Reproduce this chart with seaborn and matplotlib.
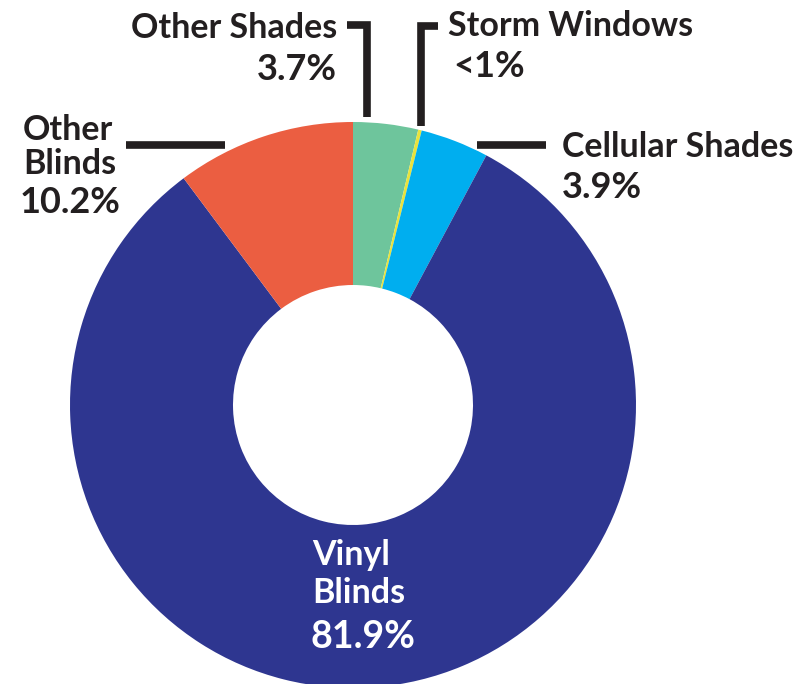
import matplotlib.pyplot as plt
import seaborn as sns

# window-covering share, clockwise from 12 o'clock
labels = ["Other Shades", "Storm Windows", "Cellular Shades", "Vinyl Blinds", "Other Blinds"]
values = [3.7, 0.2, 3.9, 81.9, 10.2]
pct_text = ["3.7%", "<1%", "3.9%", "81.9%", "10.2%"]
colors = ["#6EC59C", "#E8E33C", "#00AEEF", "#2E3690", "#EB5E41"]

sns.set_theme(style="white")
plt.rcParams["font.family"] = ["Lato", "DejaVu Sans"]

W, H = 811, 684
INK = "#231F20"

fig = plt.figure(figsize=(W / 100, H / 100), dpi=100)
ax = fig.add_axes([0, 0, 1, 1])

ax.pie(values, colors=colors, startangle=90, counterclock=False,
       radius=283, center=(353, H - 405),
       wedgeprops=dict(width=283 - 120, linewidth=0))
ax.set_xlim(0, W)
ax.set_ylim(0, H)
ax.set_aspect("equal")
ax.axis("off")


def y(py):
    return H - py


lw = 5.5
# leader lines
ax.plot([347, 367, 367], [y(25), y(25), y(117)], color=INK, lw=lw, solid_capstyle="butt", solid_joinstyle="miter")
ax.plot([438, 421, 421], [y(26), y(26), y(126)], color=INK, lw=lw, solid_capstyle="butt", solid_joinstyle="miter")
ax.plot([477, 546], [y(145), y(145)], color=INK, lw=lw, solid_capstyle="butt")
ax.plot([126, 225], [y(145), y(145)], color=INK, lw=lw, solid_capstyle="butt")

lab = dict(fontsize=24.5, fontweight="bold", color=INK)
num = dict(fontsize=26, fontweight="bold", color=INK)

ax.text(337, y(38), labels[0], ha="right", va="baseline", **lab)
ax.text(337, y(80), pct_text[0], ha="right", va="baseline", **num)

ax.text(448, y(36), labels[1], ha="left", va="baseline", **lab)
ax.text(453, y(77), pct_text[1], ha="left", va="baseline", **num)

ax.text(562, y(157), labels[2], ha="left", va="baseline", **lab)
ax.text(562, y(198), pct_text[2], ha="left", va="baseline", **num)

ax.text(23, y(140), "Other", ha="left", va="baseline", **lab)
ax.text(23, y(174), "Blinds", ha="left", va="baseline", **lab)
ax.text(20, y(213), pct_text[4], ha="left", va="baseline", **num)

white_lab = dict(lab, color="white")
white_num = dict(num, color="white", fontsize=27)
ax.text(312, y(565), "Vinyl", ha="left", va="baseline", **white_lab)
ax.text(312, y(603), "Blinds", ha="left", va="baseline", **white_lab)
ax.text(310, y(648), pct_text[3], ha="left", va="baseline", **white_num)

fig.savefig("out.png", dpi=100, facecolor="white")
